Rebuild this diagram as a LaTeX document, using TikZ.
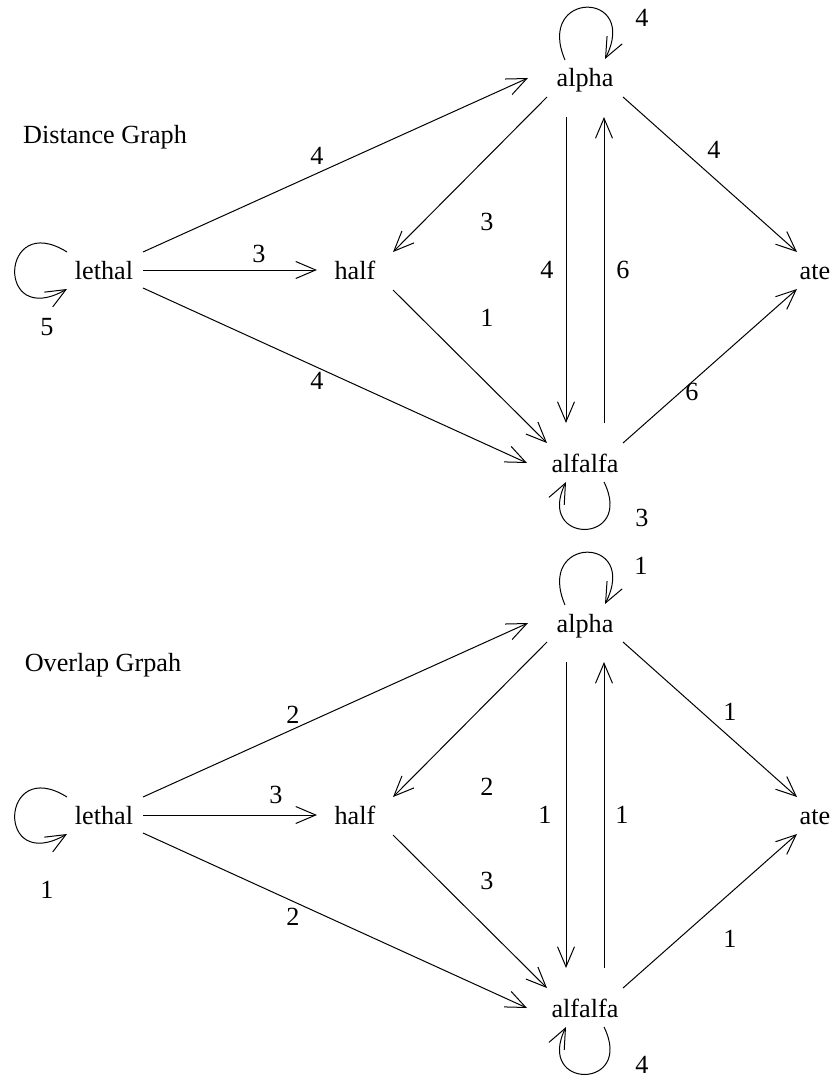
\documentclass[tikz,border=0pt]{standalone}
\usepackage{fontspec}
\setmainfont{Liberation Serif}
\usetikzlibrary{arrows.meta,calc}
\begin{document}
\begin{tikzpicture}[x=1pt,y=-1pt,
  txt/.style={font=\fontsize{26.2}{30}\selectfont, inner sep=0pt, text height=18pt, text depth=0pt},
  vtx/.style={txt},
  wt/.style={txt, text height=17.6pt},
  edge/.style={line width=1pt, line join=miter, -{Straight Barb[length=20pt,width=17pt]}}]
\useasboundingbox (0,0) rectangle (836,1083);
% ---------- Distance graph ----------
\node[txt] (title1) at (105,135) {Distance Graph};
\node[vtx] (L1) at (104,270) {lethal};
\node[vtx] (H1) at (355,270) {half};
\node[vtx] (A1) at (585,78) {alpha};
\node[vtx] (F1) at (585,463) {alfalfa};
\node[vtx] (T1) at (815,270) {ate};
\draw[edge] ($(L1)+(39,-18)$) -- ($(A1)+(-57,0)$);
\draw[edge] ($(L1)+(39,0)$) -- ($(H1)+(-38,0)$);
\draw[edge] ($(L1)+(39,18)$) -- ($(F1)+(-58,0)$);
\draw[edge] ($(A1)+(-38,19)$) -- ($(H1)+(38,-18)$);
\draw[edge] ($(H1)+(38,20)$) -- ($(F1)+(-38,-20)$);
\draw[edge] ($(A1)+(-19,39)$) -- ($(F1)+(-19,-40)$);
\draw[edge] ($(F1)+(19,-40)$) -- ($(A1)+(19,39)$);
\draw[edge] ($(A1)+(38,19)$) -- ($(T1)+(-18,-18)$);
\draw[edge] ($(F1)+(38,-20)$) -- ($(T1)+(-18,19)$);
\draw[edge] ($(L1)+(-37,-18)$) .. controls ($(L1)+(-104,-60)$) and ($(L1)+(-109,60)$) .. ($(L1)+(-37,19)$);
\draw[edge] ($(A1)+(-20,-18)$) .. controls ($(A1)+(-50,-88)$) and ($(A1)+(55,-88)$) .. ($(A1)+(20,-19)$);
\draw[edge] ($(F1)+(19,19)$) .. controls ($(F1)+(50,82)$) and ($(F1)+(-50,82)$) .. ($(F1)+(-19,19)$);
\node[wt] (w1a) at (317,156) {4};
\node[wt] (w1b) at (259,254) {3};
\node[wt] (w1c) at (317,381) {4};
\node[wt] (w1d) at (487,222) {3};
\node[wt] (w1e) at (487,318) {1};
\node[wt] (w1f) at (547,270) {4};
\node[wt] (w1g) at (623,270) {6};
\node[wt] (w1h) at (714,150) {4};
\node[wt] (w1i) at (692,392) {6};
\node[wt] (w1j) at (47,327) {5};
\node[wt] (w1k) at (642,18) {4};
\node[wt] (w1l) at (642,518) {3};
% ---------- Overlap graph ----------
\node[txt] (title2) at (103,662) {Overlap Grpah};
\node[vtx] (L2) at (104,815) {lethal};
\node[vtx] (H2) at (355,815) {half};
\node[vtx] (A2) at (585,623) {alpha};
\node[vtx] (F2) at (585,1008) {alfalfa};
\node[vtx] (T2) at (815,815) {ate};
\draw[edge] ($(L2)+(39,-18)$) -- ($(A2)+(-57,0)$);
\draw[edge] ($(L2)+(39,0)$) -- ($(H2)+(-38,0)$);
\draw[edge] ($(L2)+(39,18)$) -- ($(F2)+(-58,0)$);
\draw[edge] ($(A2)+(-38,19)$) -- ($(H2)+(38,-18)$);
\draw[edge] ($(H2)+(38,20)$) -- ($(F2)+(-38,-20)$);
\draw[edge] ($(A2)+(-19,39)$) -- ($(F2)+(-19,-40)$);
\draw[edge] ($(F2)+(19,-40)$) -- ($(A2)+(19,39)$);
\draw[edge] ($(A2)+(38,19)$) -- ($(T2)+(-18,-18)$);
\draw[edge] ($(F2)+(38,-20)$) -- ($(T2)+(-18,19)$);
\draw[edge] ($(L2)+(-37,-18)$) .. controls ($(L2)+(-104,-60)$) and ($(L2)+(-109,60)$) .. ($(L2)+(-37,19)$);
\draw[edge] ($(A2)+(-20,-18)$) .. controls ($(A2)+(-50,-88)$) and ($(A2)+(55,-88)$) .. ($(A2)+(20,-19)$);
\draw[edge] ($(F2)+(19,19)$) .. controls ($(F2)+(50,82)$) and ($(F2)+(-50,82)$) .. ($(F2)+(-19,19)$);
\node[wt] (w2a) at (293,715) {2};
\node[wt] (w2b) at (276,795) {3};
\node[wt] (w2c) at (293,917) {2};
\node[wt] (w2d) at (487,787) {2};
\node[wt] (w2e) at (487,881) {3};
\node[wt] (w2f) at (545,815) {1};
\node[wt] (w2g) at (622,815) {1};
\node[wt] (w2h) at (730,712) {1};
\node[wt] (w2i) at (730,939) {1};
\node[wt] (w2j) at (47,890) {1};
\node[wt] (w2k) at (641,566) {1};
\node[wt] (w2l) at (642,1065) {4};
\end{tikzpicture}
\end{document}
